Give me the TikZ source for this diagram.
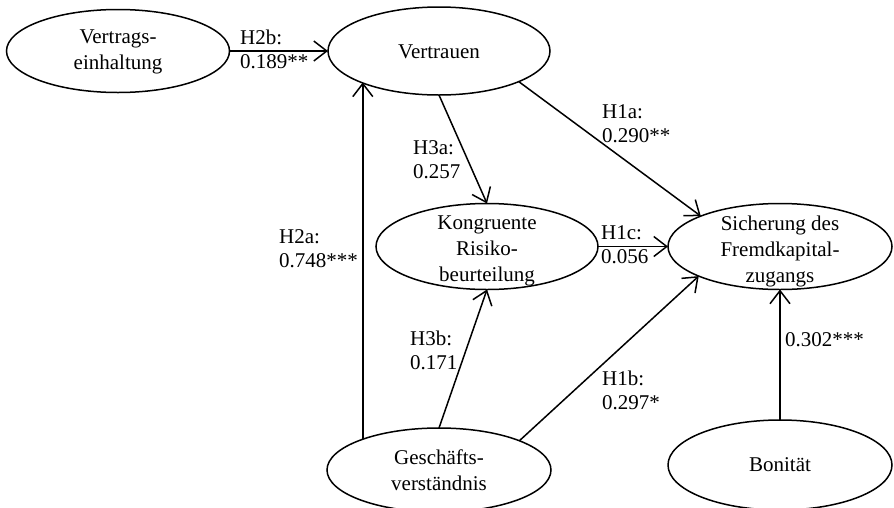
\documentclass[tikz,border=0pt]{standalone}
\usepackage{fontspec}
\setmainfont{Liberation Serif}
\usetikzlibrary{arrows.meta,shapes.geometric}
\begin{document}
\begin{tikzpicture}[x=1pt,y=-1pt,
  ell/.style={ellipse,draw,line width=1.5pt,inner sep=0pt,outer sep=0pt,minimum width=223pt,minimum height=86pt},
  etext/.style={align=center,inner sep=0pt,font=\fontsize{21}{26}\selectfont},
  lab/.style={align=left,inner sep=0pt,anchor=west,font=\fontsize{21}{24}\selectfont},
  arr/.style={line width=1.5pt,-{Straight Barb[length=13pt,width=20pt]}}]
\useasboundingbox (0,0) rectangle (894,507);
% ellipses
\node[ell,minimum width=223pt,minimum height=83pt] (v1) at (118,51) {};
\node[ell,minimum width=222pt,minimum height=88pt] (vt) at (439,51) {};
\node[ell,minimum width=222pt,minimum height=86pt] (kr) at (487,246.5) {};
\node[ell,minimum width=224pt,minimum height=86pt] (sf) at (780,246.5) {};
\node[ell,minimum width=224pt,minimum height=84pt] (gv) at (439,470) {};
\node[ell,minimum width=224pt,minimum height=90pt] (bo) at (780,465) {};
% ellipse texts
\node[etext] (v1t) at (118,52) {Vertrags-\\einhaltung};
\node[etext] (vtt) at (439,52) {Vertrauen};
\node[etext] (krt) at (487,250.5) {Kongruente\\Risiko-\\beurteilung};
\node[etext] (sft) at (780,251) {Sicherung des\\Fremdkapital-\\zugangs};
\node[etext] (gvt) at (439,470) {Geschäfts-\\verständnis};
\node[etext] (bot) at (780,465) {Bonität};
% connectors
\draw[arr] (v1.east) -- (vt.west);
\draw[arr] (gv.158.9) -- (gv.158.9 |- vt.202);
\draw[arr] (vt.south) -- (kr.north);
\draw[arr] (vt.-21.4) -- (sf.159.4);
\draw[arr] (kr.east) -- (sf.west);
\draw[arr] (gv.north) -- (kr.south);
\draw[arr] (gv.20.7) -- (sf.200.1);
\draw[arr] (bo.north) -- (sf.south);
% labels
\node[lab] (l2b) at (240,49) {H2b:\\0.189**};
\node[lab] (l3a) at (413,159.5) {H3a:\\0.257};
\node[lab] (l1a) at (602,123.5) {H1a:\\0.290**};
\node[lab] (l2a) at (279,248.5) {H2a:\\0.748***};
\node[lab] (l1c) at (601,245) {H1c:\\0.056};
\node[lab] (l3b) at (410,350) {H3b:\\0.171};
\node[lab] (l1b) at (602,390) {H1b:\\0.297*};
\node[lab] (lbo) at (785,340) {0.302***};
\end{tikzpicture}
\end{document}
